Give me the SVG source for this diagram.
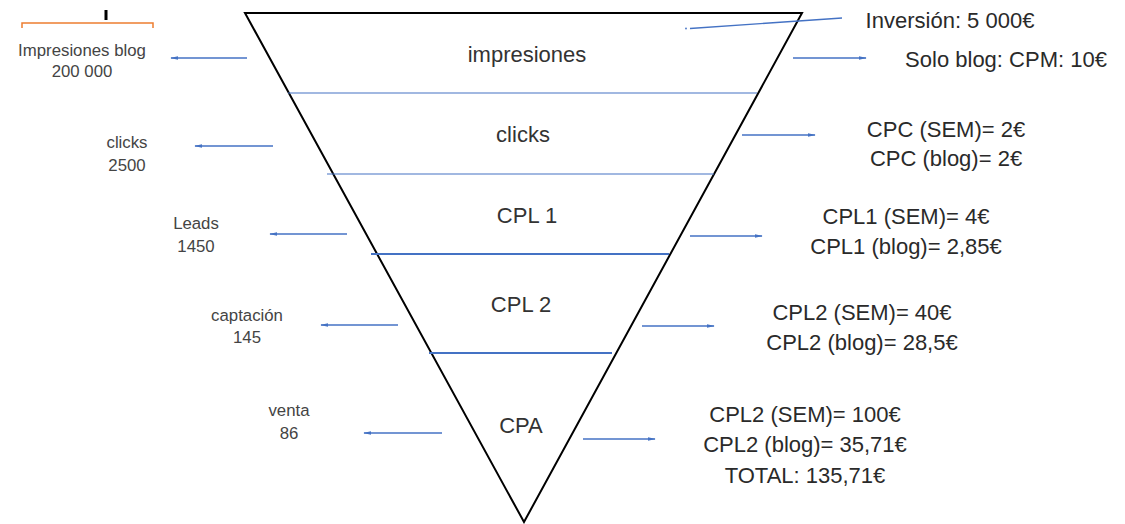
<svg xmlns="http://www.w3.org/2000/svg" width="1125" height="524" viewBox="0 0 1125 524">
<style>
.t{font-family:"Liberation Sans",Arial,sans-serif;fill:#333;text-anchor:middle}
.c{font-size:22px}
.r{font-size:22px;fill:#2a2a2a}
.l{font-size:16.8px;fill:#444}
.ar{stroke:#4472C4;stroke-width:1.3;fill:none;marker-end:url(#ah)}
.sep{stroke:#4472C4;fill:none}
</style>
<defs>
<marker id="ah" viewBox="0 0 10 6" refX="9" refY="3" markerWidth="8" markerHeight="4.8" markerUnits="userSpaceOnUse" orient="auto">
<path d="M0,0.6 L10,3 L0,5.4 Z" fill="#4472C4"/>
</marker>
</defs>
<rect width="1125" height="524" fill="#fff"/>

<g id="bracket">
<path d="M22,28 V23 H153 V28" stroke="#ED7D31" stroke-width="1.5" fill="none"/>
<line x1="106" y1="10" x2="106" y2="20" stroke="#000" stroke-width="3"/>
</g>

<g id="funnel">
<polygon points="245,13 802,13 524,522" fill="none" stroke="#000" stroke-width="2"/>
<line class="sep" x1="288" y1="93" x2="757" y2="93" stroke="#8FAADC" stroke-width="1.2"/>
<line class="sep" x1="327" y1="174" x2="714" y2="174" stroke="#8FAADC" stroke-width="1.2"/>
<line class="sep" x1="371" y1="254" x2="669" y2="254" stroke-width="1.8"/>
<line class="sep" x1="429" y1="353" x2="612" y2="353" stroke-width="1.8"/>
</g>

<g id="stage-impresiones"><text class="t c" x="527" y="62">impresiones</text></g>
<g id="stage-clicks"><text class="t c" x="523" y="142">clicks</text></g>
<g id="stage-cpl1"><text class="t c" x="527" y="223">CPL 1</text></g>
<g id="stage-cpl2"><text class="t c" x="521" y="312">CPL 2</text></g>
<g id="stage-cpa"><text class="t c" x="521" y="433">CPA</text></g>

<g id="left-impresiones"><text class="t l" x="82" y="56">Impresiones blog</text><text class="t l" x="82" y="77">200 000</text></g>
<g id="left-clicks"><text class="t l" x="127" y="148">clicks</text><text class="t l" x="127" y="171">2500</text></g>
<g id="left-leads"><text class="t l" x="196" y="229">Leads</text><text class="t l" x="196" y="252">1450</text></g>
<g id="left-captacion"><text class="t l" x="247" y="321">captación</text><text class="t l" x="247" y="343">145</text></g>
<g id="left-venta"><text class="t l" x="289" y="416">venta</text><text class="t l" x="289" y="439">86</text></g>

<g id="right-inversion"><text class="t r" x="950" y="28">Inversión: 5 000€</text></g>
<g id="right-solo"><text class="t r" x="1006" y="67">Solo blog: CPM: 10€</text></g>
<g id="right-cpc"><text class="t r" x="946" y="137">CPC (SEM)= 2€</text><text class="t r" x="946" y="166">CPC (blog)= 2€</text></g>
<g id="right-cpl1"><text class="t r" x="906" y="224">CPL1 (SEM)= 4€</text><text class="t r" x="906" y="254">CPL1 (blog)= 2,85€</text></g>
<g id="right-cpl2"><text class="t r" x="862" y="320">CPL2 (SEM)= 40€</text><text class="t r" x="862" y="350">CPL2 (blog)= 28,5€</text></g>
<g id="right-cpa"><text class="t r" x="805" y="422">CPL2 (SEM)= 100€</text><text class="t r" x="805" y="452">CPL2 (blog)= 35,71€</text><text class="t r" x="805" y="483">TOTAL: 135,71€</text></g>

<g id="connectors">
<line class="ar" x1="247" y1="58" x2="171" y2="58"/>
<line class="ar" x1="273" y1="146" x2="195" y2="146"/>
<line class="ar" x1="347" y1="234" x2="270" y2="234"/>
<line class="ar" x1="398" y1="325" x2="321" y2="325"/>
<line class="ar" x1="442" y1="433" x2="364" y2="433"/>
<line class="ar" x1="793" y1="58" x2="866" y2="58"/>
<line class="ar" x1="742" y1="135" x2="815" y2="135"/>
<line class="ar" x1="690" y1="236" x2="762" y2="236"/>
<line class="ar" x1="642" y1="326" x2="714" y2="326"/>
<line class="ar" x1="583" y1="439" x2="655" y2="439"/>
<line x1="690" y1="28.5" x2="842" y2="18" stroke="#4472C4" stroke-width="1.4"/>
<circle cx="686" cy="28.5" r="0.9" fill="#4472C4"/>
</g>
</svg>
